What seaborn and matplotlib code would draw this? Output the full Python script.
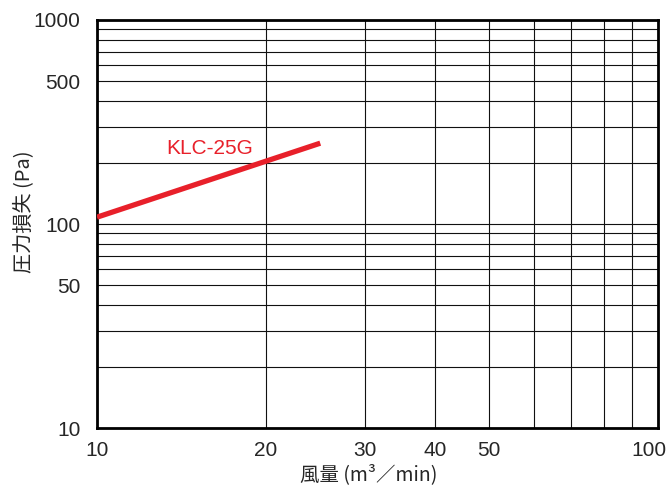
import pandas as pd
import matplotlib.pyplot as plt
import matplotlib.transforms as mtransforms
import seaborn as sns

# Values
flow = [10, 25]                # 風量 (m3/min)
pressure = [108, 249]          # 圧力損失 (Pa)
series_name = 'KLC-25G'
x_ticks = [10, 20, 30, 40, 50, 100]
y_ticks = [10, 50, 100, 500, 1000]

df = pd.DataFrame({'flow': flow, 'pressure': pressure})

sns.set_style('white')
plt.rcParams['font.family'] = ['Noto Sans CJK JP', 'DejaVu Sans']
num_font = ['Liberation Sans', 'DejaVu Sans']

fig = plt.figure(figsize=(6.69, 4.86), dpi=100)
ax = fig.add_axes([97 / 669, 1 - 428 / 486, 561 / 669, 408 / 486])

sns.lineplot(data=df, x='flow', y='pressure', color='#e8202a', linewidth=3.8,
             solid_capstyle='butt', ax=ax, zorder=3)

ax.set_xscale('log')
ax.set_yscale('log')
ax.set_xlim(10, 100)
ax.set_ylim(10, 1000)

# grid on every minor decade step
ax.grid(True, which='both', color='#111111', linewidth=0.8)
ax.set_xticks(x_ticks)
ax.set_xticklabels([str(t) for t in x_ticks], family=num_font, fontsize=15)
ax.set_yticks(y_ticks)
ax.set_yticklabels([str(t) for t in y_ticks], family=num_font, fontsize=15)
ax.tick_params(which='both', length=0)
ax.tick_params(axis='x', pad=9)
ax.tick_params(axis='y', pad=12)
ax.xaxis.set_minor_formatter(plt.NullFormatter())
ax.yaxis.set_minor_formatter(plt.NullFormatter())
for s in ax.spines.values():
    s.set_visible(True)
    s.set_color('black')
    s.set_linewidth(2)

# last x label sits a little left so it stays inside the figure
last = ax.get_xticklabels()[-1]
last.set_transform(last.get_transform() +
                   mtransforms.ScaledTranslation(-9 / 100, 0, fig.dpi_scale_trans))

ax.text(15.9, 235, series_name, color='#e8202a', fontsize=15, family=num_font,
        ha='center', va='center')

ax.set_xlabel('風量 (m³／min)', fontsize=14)
ax.set_ylabel('圧力損失 (Pa)', fontsize=14.5)
ax.xaxis.set_label_coords(0.484, -0.115)
ax.yaxis.set_label_coords(-0.13, 0.53)
ax.xaxis.label.set_va('center')
ax.yaxis.label.set_va('center')

fig.savefig('out.png', dpi=100)
